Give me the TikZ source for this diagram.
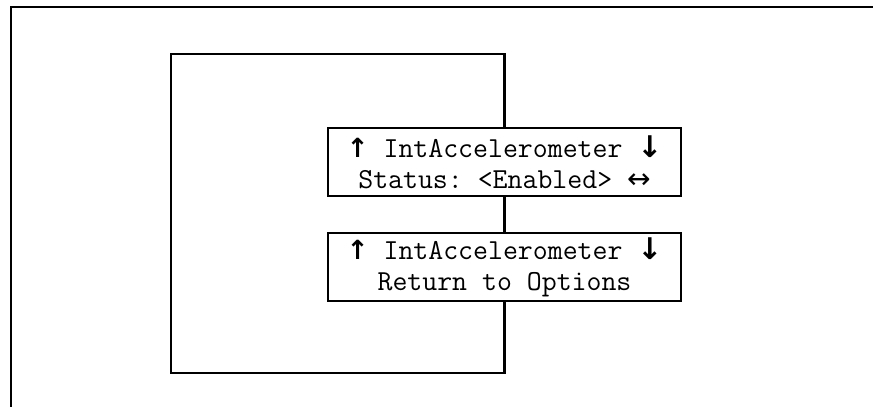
\documentclass[tikz,border=0pt]{standalone}
\usepackage{fontspec}
\newfontfamily\arrowfont{DejaVu Sans}
\usetikzlibrary{positioning}
\frenchspacing

\newcommand{\uparr}{{\arrowfont\bfseries\fontsize{15}{17}\selectfont ↑}}
\newcommand{\downarr}{{\arrowfont\bfseries\fontsize{17}{17}\selectfont ↓}}
\newcommand{\lrarr}{{\arrowfont\fontsize{16}{17}\selectfont ↔}}

\tikzset{
    frameline/.style={line width=1.3pt},
    menubox/.style={draw, line width=1.3pt, minimum width=7.06cm,
        minimum height=1.36cm, inner sep=0pt, align=center,
        font=\ttfamily\fontsize{16.5}{17.5}\selectfont}
}

\begin{document}
\begin{tikzpicture}
        \useasboundingbox (0, 0) rectangle (17.46, -8.14);
        \draw[-, frameline] (17.46, -0.14) -- (0.22, -0.14) -- (0.22, -8.14);
        \node[menubox] (status) at (10.09, -3.24)
            {\uparr\ IntAccelerometer \downarr\\Status: <Enabled> \lrarr};
        \node[menubox, below=0.7cm of status] (back)
            {\uparr\ IntAccelerometer \downarr\\Return to Options};
        \coordinate (loopnw) at (3.42, -1.08);
        \coordinate (loopsw) at (3.42, -7.46);
        \draw[-, frameline] (status.north) -- (status.north |- loopnw)
            -- (loopnw) -- (loopsw) -- (back.south |- loopsw) -- (back.south);
        \draw[-, frameline] (status.south) -- (back.north);
    \end{tikzpicture}
\end{document}
